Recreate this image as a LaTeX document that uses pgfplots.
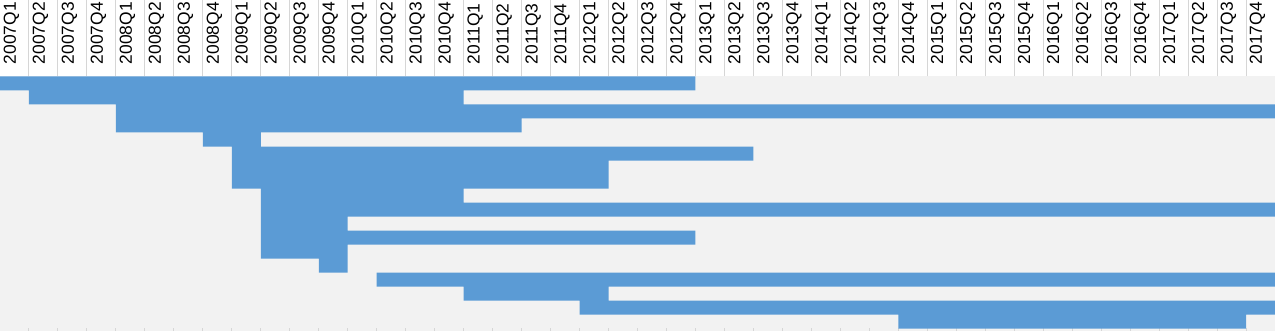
\documentclass[border=0pt]{standalone}
\usepackage{pgfplots}
\pgfplotsset{compat=1.18}
\usepackage{pgfplotstable}
\usepackage{fontspec}
\setmainfont{Liberation Sans}
\definecolor{barblue}{HTML}{5B9BD5}
\definecolor{bggray}{HTML}{F2F2F2}
\definecolor{gridgray}{HTML}{D6D6D6}
\pgfplotstableread{
row start len
0.5 0 24
1.5 1 15
2.5 4 40
3.5 4 14
4.5 7 2
5.5 8 18
6.5 8 13
7.5 8 13
8.5 9 7
9.5 9 35
10.5 9 3
11.5 9 15
12.5 9 3
13.5 11 1
14.5 13 31
15.5 16 5
16.5 20 24
17.5 31 12
}\tasks
\begin{document}
\begin{tikzpicture}
\begin{axis}[
 scale only axis, width=637.5pt, height=127pt,
 xmin=0, xmax=44, ymin=0, ymax=18.142857, y dir=reverse,
 axis line style={draw=none},
 axis background/.style={fill=bggray},
 xbar stacked, bar width=1,
 xtick={0.5,1.5,...,43.5},
 xticklabels={2007Q1,2007Q2,2007Q3,2007Q4,2008Q1,2008Q2,2008Q3,2008Q4,2009Q1,2009Q2,2009Q3,2009Q4,2010Q1,2010Q2,2010Q3,2010Q4,2011Q1,2011Q2,2011Q3,2011Q4,2012Q1,2012Q2,2012Q3,2012Q4,2013Q1,2013Q2,2013Q3,2013Q4,2014Q1,2014Q2,2014Q3,2014Q4,2015Q1,2015Q2,2015Q3,2015Q4,2016Q1,2016Q2,2016Q3,2016Q4,2017Q1,2017Q2,2017Q3,2017Q4},
 xticklabel pos=upper,
 major tick length=0pt,
 xticklabel style={font=\fontsize{8.7}{10}\selectfont, inner sep=0pt, xshift=-1.5pt, yshift=6pt, rotate=90, anchor=west},
 ytick=\empty,
 clip=false,
]
\addplot[draw=none, fill=none] table[x=start, y=row] {\tasks};
\addplot[draw=none, fill=barblue] table[x=len, y=row] {\tasks};
\pgfplotsinvokeforeach{1,...,43}{
  \draw[gridgray, line width=0.5pt] (axis cs:#1,0) -- ++(0pt,38pt);
  \draw[gridgray, line width=0.5pt] (axis cs:#1,18.142857) -- ++(0pt,1.5pt);
}
\end{axis}
\end{tikzpicture}
\end{document}
